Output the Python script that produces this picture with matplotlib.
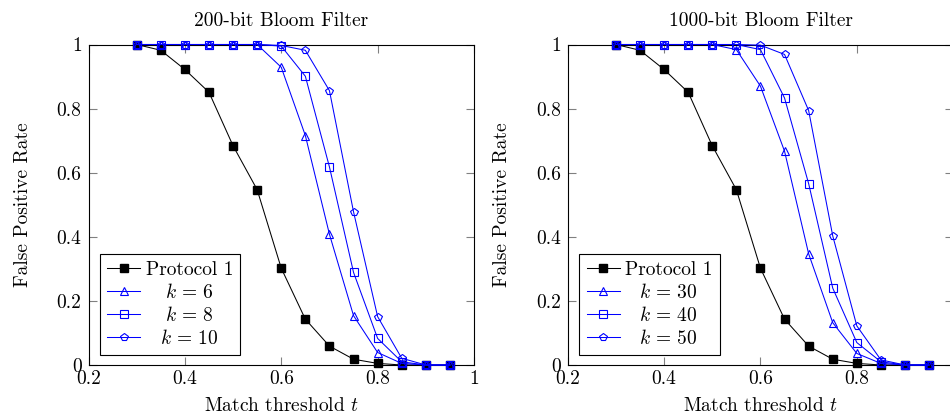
import matplotlib
matplotlib.use("Agg")
import matplotlib.pyplot as plt

thresholds = [0.30, 0.35, 0.40, 0.45, 0.50, 0.55, 0.60, 0.65, 0.70, 0.75, 0.80, 0.85, 0.90, 0.95]

protocol1 = [1.0, 0.982, 0.922, 0.851, 0.684, 0.547, 0.302, 0.143, 0.059, 0.018, 0.005, 0.0, 0.0, 0.0]

# 200-bit Bloom filter
k6 = [1.0, 1.0, 1.0, 1.0, 1.0, 1.0, 0.929, 0.716, 0.408, 0.154, 0.039, 0.005, 0.0, 0.0]
k8 = [1.0, 1.0, 1.0, 1.0, 1.0, 1.0, 0.995, 0.901, 0.618, 0.289, 0.083, 0.010, 0.0, 0.0]
k10 = [1.0, 1.0, 1.0, 1.0, 1.0, 1.0, 0.997, 0.982, 0.856, 0.478, 0.151, 0.021, 0.0, 0.0]

# 1000-bit Bloom filter
k30 = [1.0, 1.0, 1.0, 1.0, 1.0, 0.984, 0.870, 0.667, 0.347, 0.132, 0.036, 0.005, 0.0, 0.0]
k40 = [1.0, 1.0, 1.0, 1.0, 1.0, 1.0, 0.984, 0.833, 0.566, 0.240, 0.070, 0.010, 0.0, 0.0]
k50 = [1.0, 1.0, 1.0, 1.0, 1.0, 1.0, 0.998, 0.969, 0.794, 0.403, 0.122, 0.016, 0.0, 0.0]

titles = ["200-bit Bloom Filter", "1000-bit Bloom Filter"]
left_labels = ["Protocol 1", r"$k\,=\,6$", r"$k\,=\,8$", r"$k\,=\,10$"]
right_labels = ["Protocol 1", r"$k\,=\,30$", r"$k\,=\,40$", r"$k\,=\,50$"]
xticks = [0.2, 0.4, 0.6, 0.8, 1.0]
xticklabels = ["0.2", "0.4", "0.6", "0.8", "1"]
yticks = [0.0, 0.2, 0.4, 0.6, 0.8, 1.0]
yticklabels = ["0", "0.2", "0.4", "0.6", "0.8", "1"]

plt.rcParams["font.family"] = ["cmr10", "DejaVu Serif"]
plt.rcParams["mathtext.fontset"] = "cm"
plt.rcParams["axes.unicode_minus"] = False
FS = 14

fig = plt.figure(figsize=(9.5, 4.17), dpi=100)
W, H = 950.0, 417.0
axw = 385.5 / W
axh = 320.5 / H
bottom = (H - 365.0) / H
ax1 = fig.add_axes([88.5 / W, bottom, axw, axh])
ax2 = fig.add_axes([567.7 / W, bottom, axw, axh])

blue = (0, 0, 1)
MS = 5.6
LW = 0.75


def draw(ax, title, series, labels):
    ax.plot(thresholds, protocol1, color="k", lw=LW, marker="s", ms=MS,
            mfc="k", mec="k", label=labels[0], clip_on=False, zorder=3)
    markers = ["^", "s", "p"]
    for vals, m, lab in zip(series, markers, labels[1:]):
        ax.plot(thresholds, vals, color=blue, lw=LW, marker=m, ms=MS,
                mfc="none", mec=blue, mew=0.8, label=lab, clip_on=False, zorder=4)
    ax.set_xlim(0.2, 1.0)
    ax.set_ylim(0.0, 1.0)
    ax.set_xticks(xticks)
    ax.set_xticklabels(xticklabels)
    ax.set_yticks(yticks)
    ax.set_yticklabels(yticklabels)
    ax.tick_params(direction="in", top=True, right=True, length=6, width=0.8,
                   color="0.5", labelcolor="k", labelsize=FS)
    ax.tick_params(axis="x", pad=4)
    ax.tick_params(axis="y", pad=5)
    for s in ax.spines.values():
        s.set_linewidth(0.8)
        s.set_color("k")
    ax.set_title(title, fontsize=FS, pad=13)
    ax.set_xlabel(r"Match threshold $t$", fontsize=FS)
    ax.xaxis.set_label_coords(0.5, -0.10)
    ax.set_ylabel("False Positive Rate", fontsize=FS)
    ax.yaxis.set_label_coords(-0.147, 0.5)
    leg = ax.legend(loc="lower left", bbox_to_anchor=(11.5 / 385.5, 10 / 320.5),
                    borderaxespad=0.0, fontsize=FS, frameon=True, fancybox=False,
                    edgecolor="k", framealpha=1.0, handlelength=1.7,
                    handletextpad=0.26, borderpad=0.38, labelspacing=0.2)
    leg.get_frame().set_linewidth(0.8)
    return leg


leg1 = draw(ax1, titles[0], [k6, k8, k10], left_labels)
leg2 = draw(ax2, titles[1], [k30, k40, k50], right_labels)

# center legend entries in their column (pgfplots style)
renderer = fig.canvas.get_renderer()
for leg in (leg1, leg2):
    texts = leg.get_texts()
    widths = [t.get_window_extent(renderer).width for t in texts]
    wmax = max(widths)
    for t, w in zip(texts, widths):
        t.set_x((wmax - w) / 2.0)

fig.savefig("out.png", dpi=100)
